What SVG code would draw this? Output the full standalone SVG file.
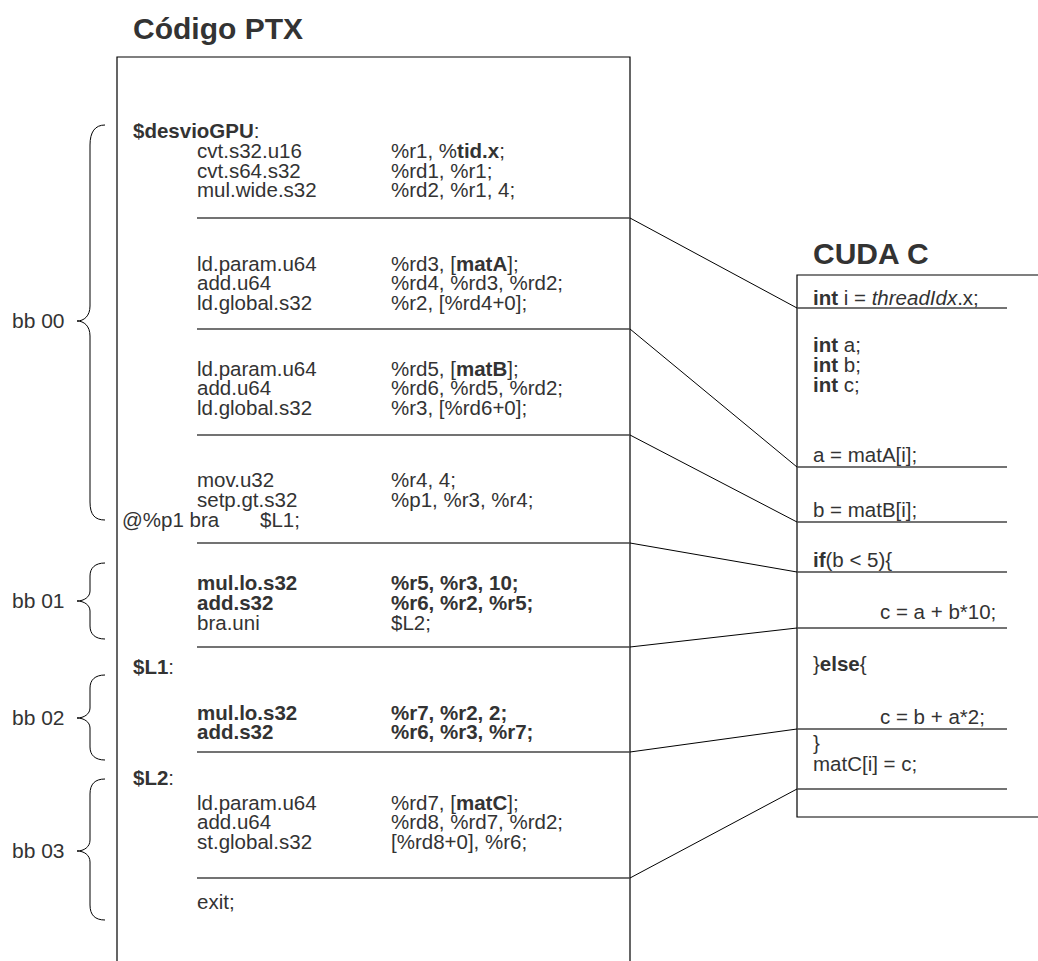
<svg xmlns="http://www.w3.org/2000/svg" width="1038" height="961" viewBox="0 0 1038 961">
  <style>
    text { font-family: "Liberation Sans", Arial, sans-serif; fill: #333; }
    .title { font-size: 30px; font-weight: bold; }
    .code { font-size: 20.5px; }
    .lbl { font-size: 21px; }
    .b { font-weight: bold; }
    .i { font-style: italic; }
    .frame { fill: none; stroke: #000; stroke-width: 1.2; }
    .sep { stroke: #444; stroke-width: 1.3; }
    .link { stroke: #000; stroke-width: 1; fill: none; }
    .brace { fill: none; stroke: #000; stroke-width: 1; }
  </style>
  <rect width="1038" height="961" fill="#fff"/>

  <!-- PTX listing -->
  <g id="ptx">
    <text class="title" x="133" y="39">Código PTX</text>
    <path class="frame" d="M117,961 V57 H630 V961"/>
    <g class="code">
      <text x="133" y="138"><tspan class="b">$desvioGPU</tspan>:</text>
      <text x="197" y="158">cvt.s32.u16</text><text x="391" y="158">%r1, %<tspan class="b">tid.x</tspan>;</text>
      <text x="197" y="178">cvt.s64.s32</text><text x="391" y="178">%rd1, %r1;</text>
      <text x="197" y="197">mul.wide.s32</text><text x="391" y="197">%rd2, %r1, 4;</text>

      <text x="197" y="271">ld.param.u64</text><text x="391" y="271">%rd3, [<tspan class="b">matA</tspan>];</text>
      <text x="197" y="290">add.u64</text><text x="391" y="290">%rd4, %rd3, %rd2;</text>
      <text x="197" y="310">ld.global.s32</text><text x="391" y="310">%r2, [%rd4+0];</text>

      <text x="197" y="376">ld.param.u64</text><text x="391" y="376">%rd5, [<tspan class="b">matB</tspan>];</text>
      <text x="197" y="395">add.u64</text><text x="391" y="395">%rd6, %rd5, %rd2;</text>
      <text x="197" y="415">ld.global.s32</text><text x="391" y="415">%r3, [%rd6+0];</text>

      <text x="197" y="487">mov.u32</text><text x="391" y="487">%r4, 4;</text>
      <text x="197" y="507">setp.gt.s32</text><text x="391" y="507">%p1, %r3, %r4;</text>
      <text x="122" y="527">@%p1 bra<tspan x="260">$L1;</tspan></text>

      <text class="b" x="197" y="590">mul.lo.s32</text><text class="b" x="391" y="590">%r5, %r3, 10;</text>
      <text class="b" x="197" y="610">add.s32</text><text class="b" x="391" y="610">%r6, %r2, %r5;</text>
      <text x="197" y="630">bra.uni</text><text x="391" y="630">$L2;</text>

      <text x="133" y="674"><tspan class="b">$L1</tspan>:</text>
      <text class="b" x="197" y="720">mul.lo.s32</text><text class="b" x="391" y="720">%r7, %r2, 2;</text>
      <text class="b" x="197" y="739">add.s32</text><text class="b" x="391" y="739">%r6, %r3, %r7;</text>

      <text x="133" y="785"><tspan class="b">$L2</tspan>:</text>
      <text x="197" y="810">ld.param.u64</text><text x="391" y="810">%rd7, [<tspan class="b">matC</tspan>];</text>
      <text x="197" y="829">add.u64</text><text x="391" y="829">%rd8, %rd7, %rd2;</text>
      <text x="197" y="849">st.global.s32</text><text x="391" y="849">[%rd8+0], %r6;</text>

      <text x="197" y="909">exit;</text>
    </g>
    <g>
      <line class="sep" x1="197" y1="218" x2="630" y2="218"/>
      <line class="sep" x1="197" y1="329" x2="630" y2="329"/>
      <line class="sep" x1="197" y1="435" x2="630" y2="435"/>
      <line class="sep" x1="197" y1="543" x2="630" y2="543"/>
      <line class="sep" x1="197" y1="647" x2="630" y2="647"/>
      <line class="sep" x1="197" y1="752" x2="630" y2="752"/>
      <line class="sep" x1="197" y1="878" x2="630" y2="878"/>
    </g>
  </g>

  <!-- basic block braces -->
  <g id="bb00">
    <path class="brace" d="M105,125 C95,125 90,132 90,145 L90,306 C90,316 84,321 77,321 C84,321 90,326 90,336 L90,502 C90,515 95,520 105,520"/>
    <text class="lbl" x="12" y="328">bb 00</text>
  </g>
  <g id="bb01">
    <path class="brace" d="M105,563 C95,563 90,568 90,576 L90,591 C90,597 84,601 77,601 C84,601 90,605 90,611 L90,626 C90,634 95,639 105,639"/>
    <text class="lbl" x="12" y="608">bb 01</text>
  </g>
  <g id="bb02">
    <path class="brace" d="M105,675 C95,675 90,680 90,688 L90,708 C90,714 84,718 77,718 C84,718 90,722 90,728 L90,747 C90,755 95,760 105,760"/>
    <text class="lbl" x="12" y="725">bb 02</text>
  </g>
  <g id="bb03">
    <path class="brace" d="M105,779 C95,779 90,784 90,794 L90,840 C90,847 84,851 77,851 C84,851 90,855 90,862 L90,905 C90,915 95,920 105,920"/>
    <text class="lbl" x="12" y="858">bb 03</text>
  </g>

  <!-- CUDA C source -->
  <g id="cuda">
    <text class="title" x="813" y="264">CUDA C</text>
    <path class="frame" d="M1038,275 H797 V817 H1038"/>
    <g class="code">
      <text x="813" y="305"><tspan class="b">int</tspan> i = <tspan class="i">threadIdx</tspan>.x;</text>
      <text x="813" y="352"><tspan class="b">int</tspan> a;</text>
      <text x="813" y="372"><tspan class="b">int</tspan> b;</text>
      <text x="813" y="392"><tspan class="b">int</tspan> c;</text>
      <text x="813" y="462">a = matA[i];</text>
      <text x="813" y="517">b = matB[i];</text>
      <text x="813" y="567"><tspan class="b">if</tspan>(b &lt; 5){</text>
      <text x="880" y="619">c = a + b*10;</text>
      <text x="813" y="671">}<tspan class="b">else</tspan>{</text>
      <text x="880" y="724">c = b + a*2;</text>
      <text x="813" y="750">}</text>
      <text x="813" y="771">matC[i] = c;</text>
    </g>
    <g>
      <line class="sep" x1="797" y1="308" x2="1007" y2="308"/>
      <line class="sep" x1="797" y1="467" x2="1007" y2="467"/>
      <line class="sep" x1="797" y1="522" x2="1007" y2="522"/>
      <line class="sep" x1="797" y1="572" x2="1007" y2="572"/>
      <line class="sep" x1="797" y1="628" x2="1007" y2="628"/>
      <line class="sep" x1="797" y1="729" x2="1007" y2="729"/>
      <line class="sep" x1="797" y1="789" x2="1007" y2="789"/>
    </g>
  </g>

  <!-- PTX block to source line mapping -->
  <g id="connectors">
    <line class="link" x1="630" y1="218" x2="797" y2="308"/>
    <line class="link" x1="630" y1="329" x2="797" y2="467"/>
    <line class="link" x1="630" y1="435" x2="797" y2="522"/>
    <line class="link" x1="630" y1="543" x2="797" y2="572"/>
    <line class="link" x1="630" y1="647" x2="797" y2="628"/>
    <line class="link" x1="630" y1="752" x2="797" y2="729"/>
    <line class="link" x1="630" y1="878" x2="797" y2="789"/>
  </g>
</svg>
